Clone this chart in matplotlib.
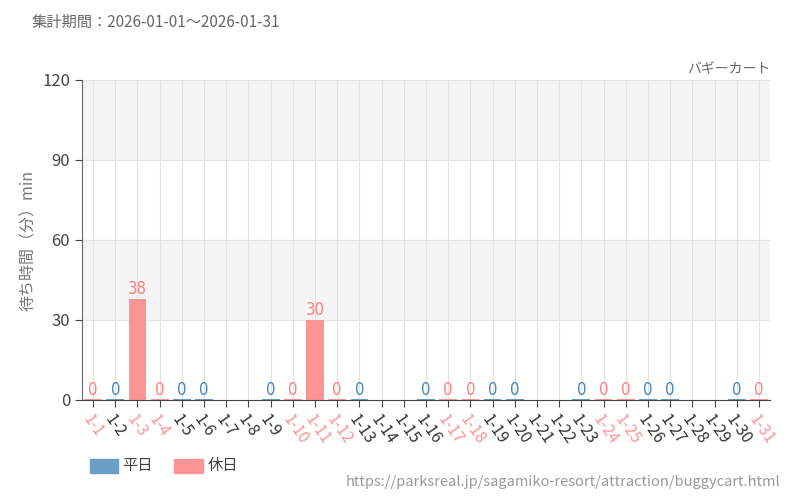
import numpy as np
import matplotlib
matplotlib.use("Agg")
import matplotlib.pyplot as plt

plt.rcParams['font.family'] = ['Noto Sans CJK JP', 'DejaVu Sans']

days = [f"1-{d}" for d in range(1, 32)]
holidays = [1, 3, 4, 10, 11, 12, 17, 18, 24, 25, 31]
weekday_vals = {2: 0, 5: 0, 6: 0, 9: 0, 13: 0, 16: 0, 19: 0, 20: 0, 23: 0, 26: 0, 27: 0, 30: 0}
holiday_vals = {1: 0, 3: 38, 4: 0, 10: 0, 11: 30, 12: 0, 17: 0, 18: 0, 24: 0, 25: 0, 31: 0}

BLUE = "#6a9ec5"
RED = "#ff9494"
BLUE_T = "#4a86b8"
RED_T = "#ff7f7f"

fig = plt.figure(figsize=(8, 5), dpi=100)
ax = fig.add_axes([0.1025, 0.2, 0.86, 0.64])

for lo in (30, 90):
    ax.axhspan(lo, lo + 30, color="#f5f5f5", zorder=0)
x = np.arange(31)
for xi in x:
    ax.axvline(xi, color="#e3e3e3", lw=0.8, zorder=0.5)
for yv in (30, 60, 90, 120):
    ax.axhline(yv, color="#e3e3e3", lw=0.8, zorder=0.5)

for vals, col, tcol in ((weekday_vals, BLUE, BLUE_T), (holiday_vals, RED, RED_T)):
    for d, v in vals.items():
        ax.bar(d - 1, max(v, 0.4), width=0.8, color=col, zorder=2)
        ax.text(d - 1, v + 0.3, str(v), ha="center", va="bottom", color=tcol,
                fontsize=12, family="DejaVu Sans", fontstretch="condensed", zorder=3)

ax.set_xlim(-0.5, 30.5)
ax.set_ylim(0, 120)
ax.set_yticks([0, 30, 60, 90, 120])
ax.tick_params(axis="y", labelsize=12, colors="#444444", length=5)
ax.tick_params(axis="x", length=5, color="#444444")
ax.set_xticks(x)
ax.set_xticklabels(days, rotation=-55, ha="left", va="top", rotation_mode="anchor", fontsize=11.5)
for i, lab in enumerate(ax.get_xticklabels()):
    lab.set_color(RED if (i + 1) in holidays else "#333333")
for s in ("top", "right"):
    ax.spines[s].set_visible(False)
ax.spines["left"].set_color("#666666")
ax.spines["bottom"].set_color("#444444")
ax.set_ylabel("待ち時間（分）min", color="#777777", fontsize=11.5)

fig.text(0.04, 0.955, "集計期間：2026-01-01～2026-01-31", color="#666666", fontsize=11, va="center")
fig.text(0.963, 0.862, "バギーカート", color="#666666", fontsize=10, ha="right", va="center")
fig.text(0.975, 0.036, "https://parksreal.jp/sagamiko-resort/attraction/buggycart.html",
         color="#999999", fontsize=10.5, ha="right", va="center")

fig.patches.append(plt.Rectangle((0.112, 0.055), 0.036, 0.028, color=BLUE, transform=fig.transFigure))
fig.text(0.153, 0.069, "平日", fontsize=11, color="#444444", va="center")
fig.patches.append(plt.Rectangle((0.218, 0.055), 0.036, 0.028, color=RED, transform=fig.transFigure))
fig.text(0.259, 0.069, "休日", fontsize=11, color="#444444", va="center")

fig.savefig("out.png", dpi=100)
